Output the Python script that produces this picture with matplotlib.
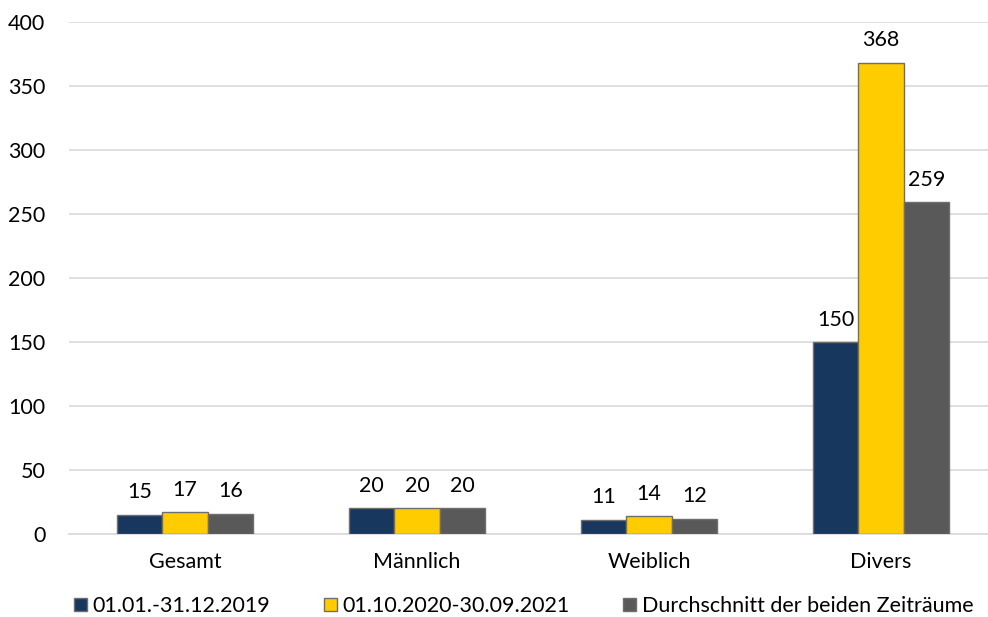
import matplotlib
matplotlib.use("Agg")
import matplotlib.pyplot as plt
import numpy as np

plt.rcParams['font.family'] = ['Lato', 'DejaVu Sans']

categories = ["Gesamt", "Männlich", "Weiblich", "Divers"]
series_names = ["01.01.-31.12.2019", "01.10.2020-30.09.2021", "Durchschnitt der beiden Zeiträume"]
values_2019 = [15, 20, 11, 150]
values_2020_21 = [17, 20, 14, 368]
values_avg = [16, 20, 12, 259]
colors = ["#17375E", "#FFCC00", "#595959"]
y_ticks = [0, 50, 100, 150, 200, 250, 300, 350, 400]

W, H = 988, 617
fig = plt.figure(figsize=(W / 100, H / 100), dpi=100)
left_px, right_px, bottom_px, top_px = 69, 988, 534, 22
ax = fig.add_axes([left_px / W, 1 - bottom_px / H,
                   (right_px - left_px) / W, (bottom_px - top_px) / H])

FS = 15.5
x = np.arange(len(categories))
bw = 0.195
for i, (vals, name, col) in enumerate(zip([values_2019, values_2020_21, values_avg],
                                          series_names, colors)):
    pos = x + (i - 1) * bw
    ax.bar(pos, vals, width=bw, color=col, edgecolor="#6E6E6E",
           linewidth=1.0, label=name, zorder=3)
    for p, v in zip(pos, vals):
        ax.annotate(f"{v}", (p, v), xytext=(0, 9), textcoords="offset points",
                    ha="center", va="bottom", fontsize=FS, color="#000000")

ax.set_ylim(0, 400)
ax.set_xlim(-0.5, -0.5 + (right_px - left_px) / 232)
ax.set_yticks(y_ticks)
ax.set_xticks(x)
ax.set_xticklabels(categories)
ax.tick_params(axis="both", length=0, labelsize=FS, colors="#000000")
ax.tick_params(axis="y", pad=17)
ax.tick_params(axis="x", pad=13)
ax.grid(axis="y", color="#D9D9D9", linewidth=1.2, zorder=0)
for s in ["top", "right", "left"]:
    ax.spines[s].set_visible(False)
ax.spines["bottom"].set_color("#D9D9D9")
ax.spines["bottom"].set_linewidth(1.2)

handles, labels = ax.get_legend_handles_labels()
fig.legend(handles, labels, loc="center", bbox_to_anchor=(0.53, 1 - 606 / H),
           ncol=3, frameon=False, fontsize=FS, handlelength=0.6, handleheight=0.6,
           handletextpad=0.25, columnspacing=2.5)

fig.savefig("out.png", dpi=100)
